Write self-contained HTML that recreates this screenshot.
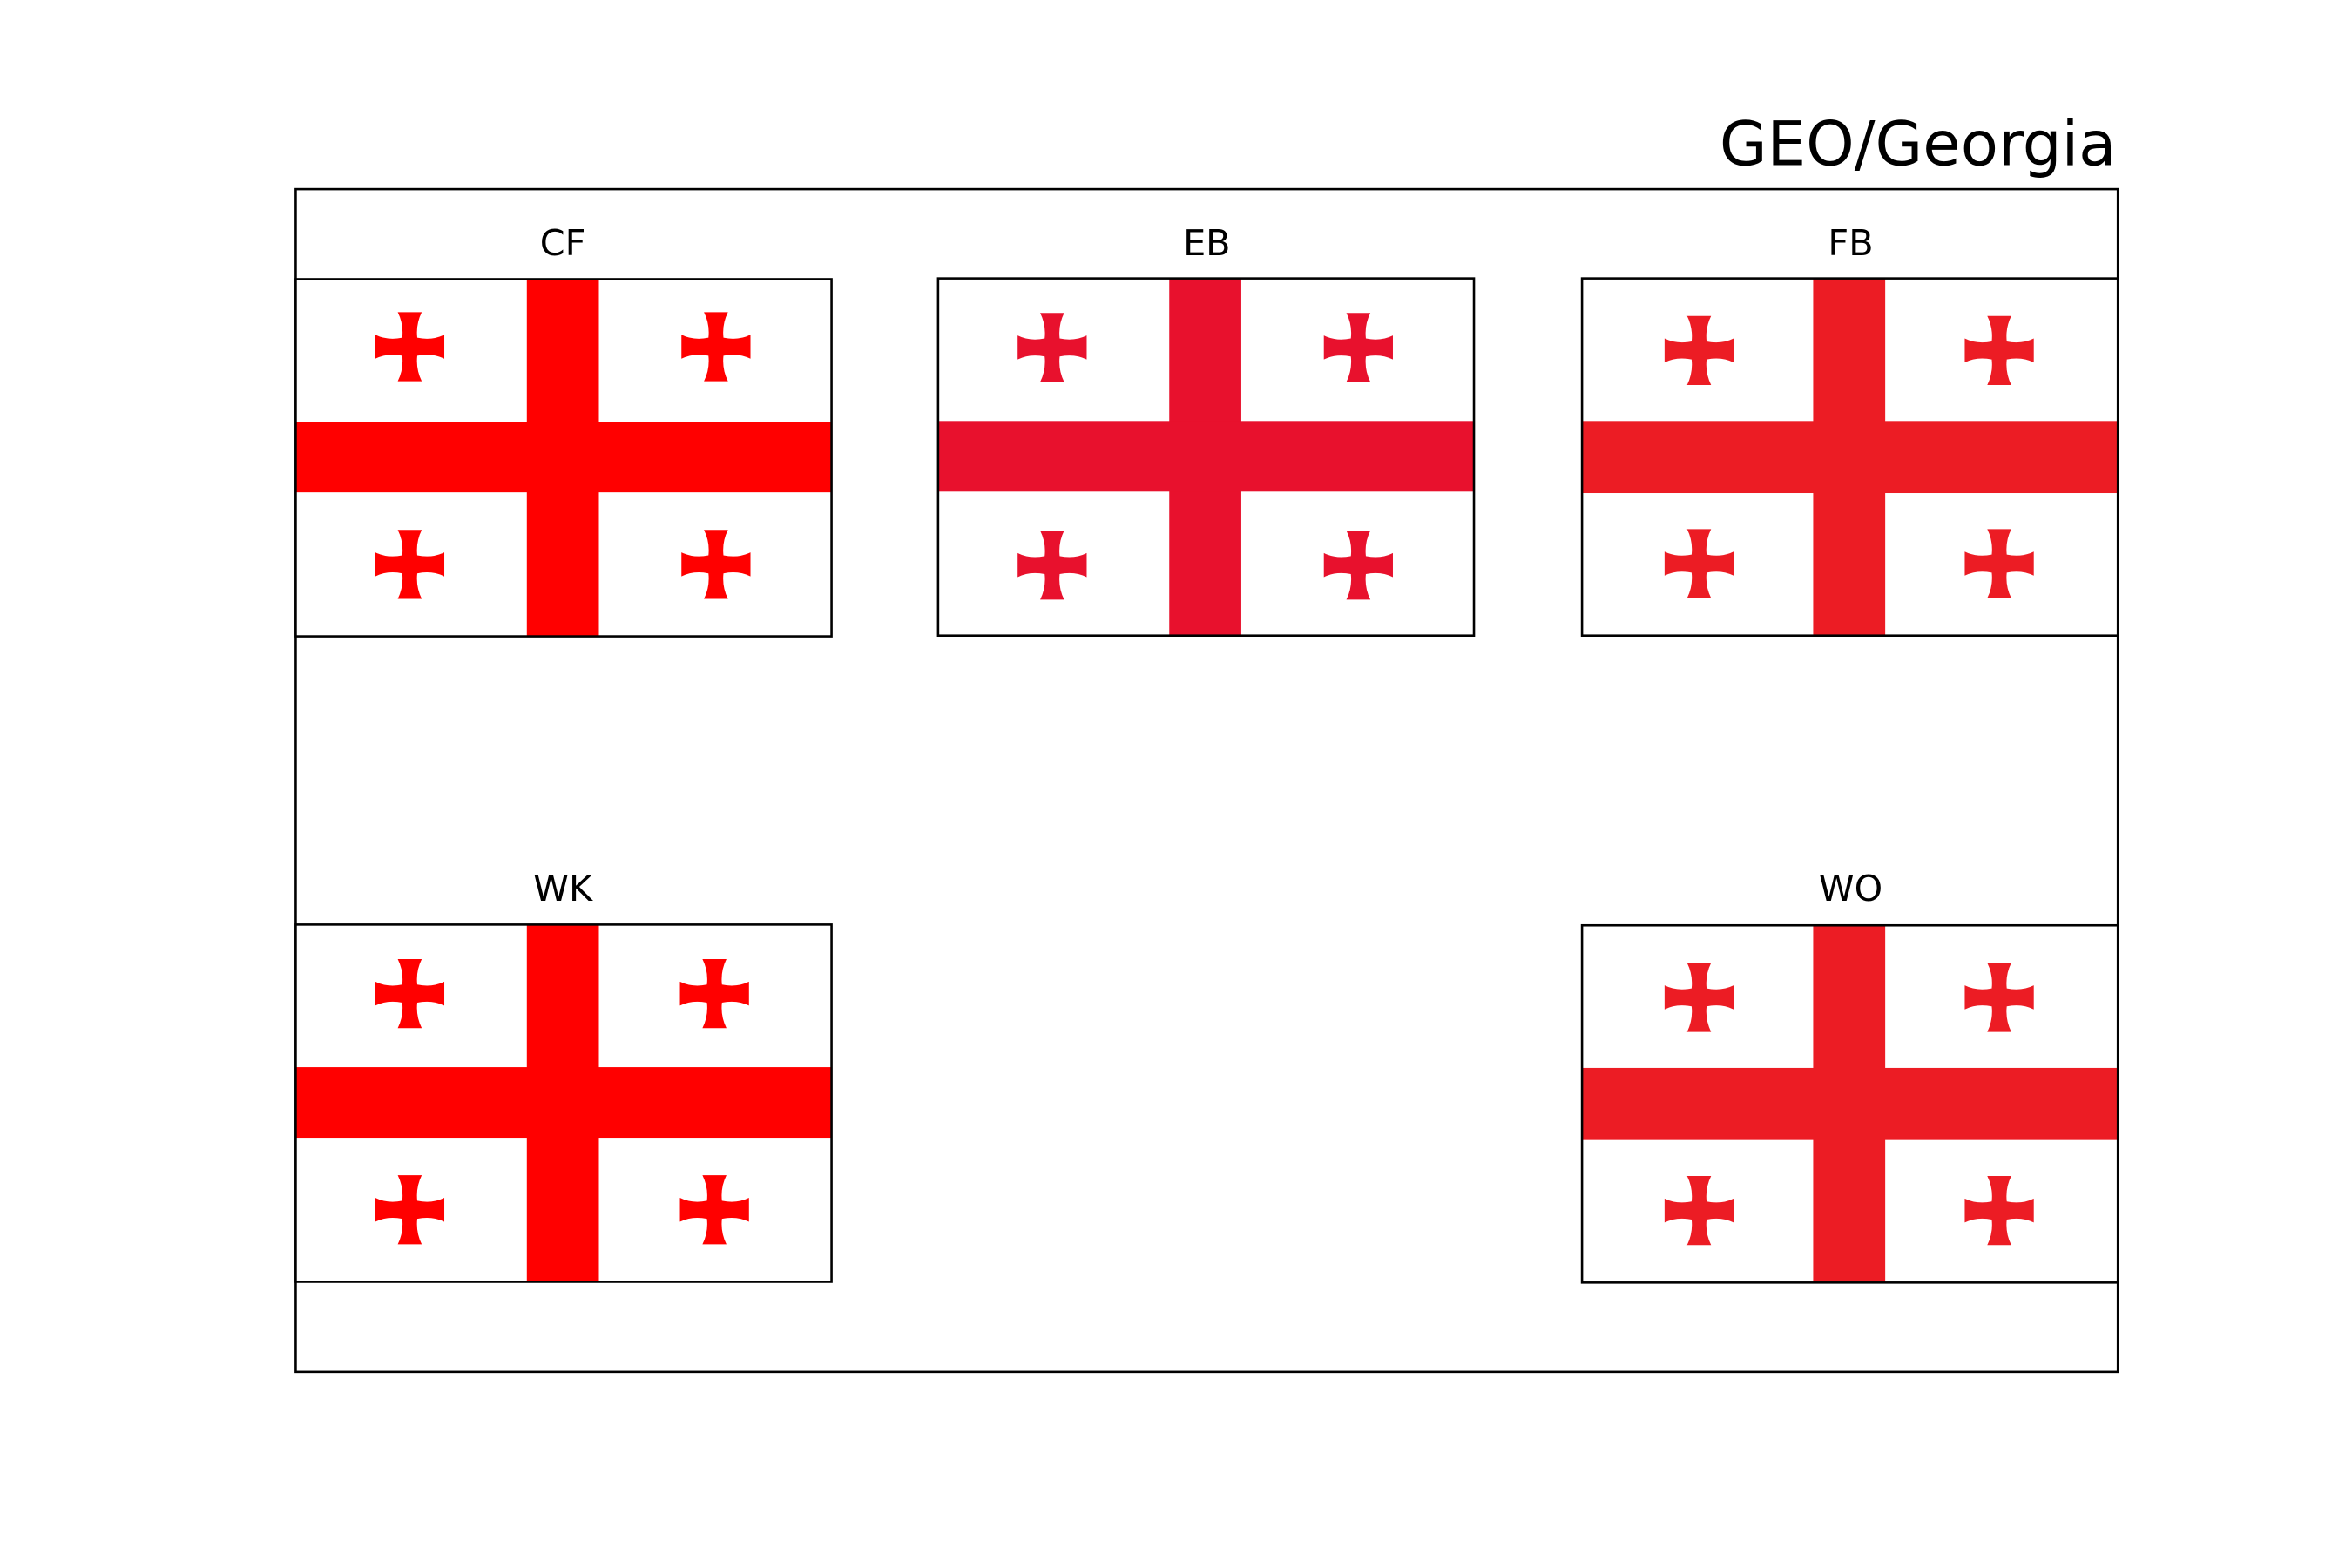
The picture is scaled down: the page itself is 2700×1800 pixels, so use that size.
<!DOCTYPE html>
<html><head><meta charset="utf-8"><style>html,body{margin:0;padding:0;background:#fff}svg{display:block}</style></head>
<body>
<svg width="2700" height="1800" viewBox="0 0 1567 1044.67" preserveAspectRatio="none" xmlns="http://www.w3.org/2000/svg">
<defs>
<path id="c" d="M -5,-6 Q -4,-15 -8,-23 L 8,-23 Q 4,-15 5,-6 Q 15,-4 23,-8 L 23,8 Q 15,4 5,6 Q 4,15 8,23 L -8,23 Q -4,15 -5,6 Q -15,4 -23,8 L -23,-8 Q -15,-4 -5,-6 Z"/>
</defs>
<rect x="0" y="0" width="1567" height="1045" fill="#fff"/>
<text x="1410" y="110" text-anchor="end" font-family="DejaVu Sans, Liberation Sans, sans-serif" font-size="41">GEO/Georgia</text>
<rect x="197" y="126" width="1214" height="788" fill="none" stroke="#000" stroke-width="1.5"/>
<g font-family="DejaVu Sans, Liberation Sans, sans-serif" font-size="24" text-anchor="middle">
<text x="375" y="170">CF</text><text x="804" y="170">EB</text><text x="1233" y="170">FB</text>
<text x="375" y="600">WK</text><text x="1233" y="600">WO</text>
</g>
<g transform="translate(197,186)" fill="#ff0000">
<rect x="0" y="0" width="357" height="238" fill="#fff"/>
<rect x="154" y="0" width="48" height="238"/><rect x="0" y="95" width="357" height="47"/>
<use href="#c" x="76" y="45"/><use href="#c" x="280" y="45"/><use href="#c" x="76" y="190"/><use href="#c" x="280" y="190"/>
<rect x="0" y="0" width="357" height="238" fill="none" stroke="#000" stroke-width="1.5"/>
</g>
<g transform="translate(625,185.5)" fill="#e8112d">
<rect x="0" y="0" width="357" height="238" fill="#fff"/>
<rect x="154" y="0" width="48" height="238"/><rect x="0" y="95" width="357" height="47"/>
<use href="#c" x="76" y="46"/><use href="#c" x="280" y="46"/><use href="#c" x="76" y="191"/><use href="#c" x="280" y="191"/>
<rect x="0" y="0" width="357" height="238" fill="none" stroke="#000" stroke-width="1.5"/>
</g>
<g transform="translate(1054,185.5)" fill="#ec1c24">
<rect x="0" y="0" width="357" height="238" fill="#fff"/>
<rect x="154" y="0" width="48" height="238"/><rect x="0" y="95" width="357" height="48"/>
<use href="#c" x="78" y="48"/><use href="#c" x="278" y="48"/><use href="#c" x="78" y="190"/><use href="#c" x="278" y="190"/>
<rect x="0" y="0" width="357" height="238" fill="none" stroke="#000" stroke-width="1.5"/>
</g>
<g transform="translate(197,616)" fill="#ff0000">
<rect x="0" y="0" width="357" height="238" fill="#fff"/>
<rect x="154" y="0" width="48" height="238"/><rect x="0" y="95" width="357" height="47"/>
<use href="#c" x="76" y="46"/><use href="#c" x="279" y="46"/><use href="#c" x="76" y="190"/><use href="#c" x="279" y="190"/>
<rect x="0" y="0" width="357" height="238" fill="none" stroke="#000" stroke-width="1.5"/>
</g>
<g transform="translate(1054,616.5)" fill="#ec1c24">
<rect x="0" y="0" width="357" height="238" fill="#fff"/>
<rect x="154" y="0" width="48" height="238"/><rect x="0" y="95" width="357" height="48"/>
<use href="#c" x="78" y="48"/><use href="#c" x="278" y="48"/><use href="#c" x="78" y="190"/><use href="#c" x="278" y="190"/>
<rect x="0" y="0" width="357" height="238" fill="none" stroke="#000" stroke-width="1.5"/>
</g>
</svg>
</body></html>
